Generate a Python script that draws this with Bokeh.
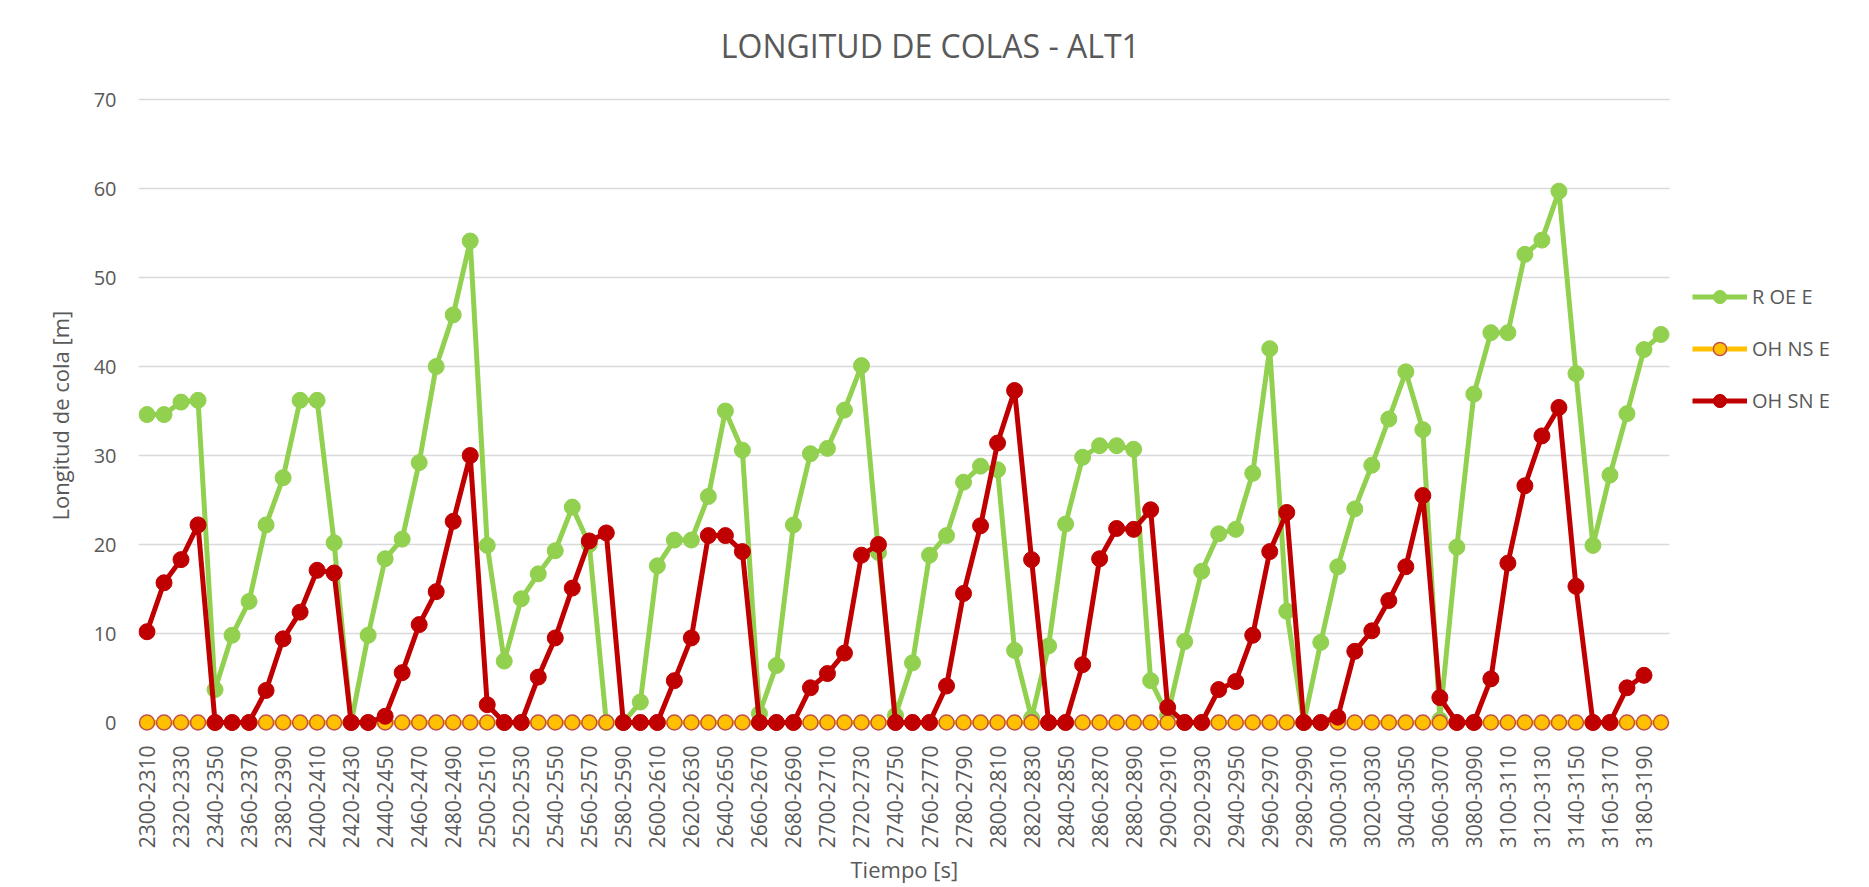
import numpy as np
from bokeh.plotting import figure
from bokeh.models import Range1d, FixedTicker, Legend, LegendItem, Title, Label
from bokeh.embed import file_html
from bokeh.resources import INLINE

# ---------------- data ----------------
start_times = list(range(2300, 3200, 10))
categories = [f"{t}-{t + 10}" for t in start_times]

r_oe_e = [
    34.6, 34.6, 36.0, 36.2, 3.7, 9.8, 13.6, 22.2, 27.5, 36.2,
    36.2, 20.2, 0.0, 9.8, 18.4, 20.6, 29.2, 40.0, 45.8, 54.1,
    19.9, 6.9, 13.9, 16.7, 19.3, 24.2, 20.0, 0.0, 0.0, 2.3,
    17.6, 20.5, 20.5, 25.4, 35.0, 30.6, 1.0, 6.4, 22.2, 30.2,
    30.8, 35.1, 40.1, 19.1, 0.8, 6.7, 18.8, 21.0, 27.0, 28.8,
    28.4, 8.1, 0.5, 8.6, 22.3, 29.8, 31.1, 31.1, 30.7, 4.7,
    0.8, 9.1, 17.0, 21.2, 21.7, 28.0, 42.0, 12.5, 0.0, 9.0,
    17.5, 24.0, 28.9, 34.1, 39.4, 32.9, 0.3, 19.7, 36.9, 43.8,
    43.8, 52.6, 54.2, 59.7, 39.2, 19.9, 27.8, 34.7, 41.9, 43.6,
]

oh_ns_e = [0.0] * 90

oh_sn_e = [
    10.2, 15.7, 18.3, 22.2, 0.0, 0.0, 0.0, 3.6, 9.4, 12.4,
    17.1, 16.8, 0.0, 0.0, 0.7, 5.6, 11.0, 14.7, 22.6, 30.0,
    2.0, 0.0, 0.0, 5.1, 9.5, 15.1, 20.4, 21.3, 0.0, 0.0,
    0.0, 4.7, 9.5, 21.0, 21.0, 19.2, 0.0, 0.0, 0.0, 3.9,
    5.5, 7.8, 18.8, 20.0, 0.0, 0.0, 0.0, 4.1, 14.5, 22.1,
    31.4, 37.3, 18.3, 0.0, 0.0, 6.5, 18.4, 21.8, 21.7, 23.9,
    1.7, 0.0, 0.0, 3.7, 4.6, 9.8, 19.2, 23.6, 0.0, 0.0,
    0.6, 8.0, 10.3, 13.7, 17.5, 25.5, 2.8, 0.0, 0.0, 4.9,
    17.9, 26.6, 32.2, 35.4, 15.3, 0.0, 0.0, 3.9, 5.3, None,
]

y_ticks = [0, 10, 20, 30, 40, 50, 60, 70]

# ---------------- style / layout ----------------
FONT = "Open Sans"
TXT = "#595959"
GREEN = "#92D050"
YELLOW = "#FFC000"
YEL_EDGE = "#C0504D"
RED = "#C00000"

W, H = 1853, 887
LEFT, PLOT_W = 138, 1531            # plotting area of the categories
PX_PER_CAT = PLOT_W / len(categories)
FRAME_W = W - LEFT                   # frame extended right to host the legend
FRAME_BOTTOM = 731                   # frame spans 0..731 px
Y0_PX, Y70_PX = 722, 99              # pixel rows of the 0 and 70 gridlines
PX_PER_UNIT = (Y0_PX - Y70_PX) / 70.0
Y_START = -(FRAME_BOTTOM - Y0_PX) / PX_PER_UNIT
Y_END = 70 + Y70_PX / PX_PER_UNIT

x = np.arange(len(categories))
red_y = np.array([np.nan if v is None else v for v in oh_sn_e], dtype=float)

p = figure(
    width=W, height=H,
    output_backend="svg", toolbar_location=None,
    x_range=Range1d(-0.5, -0.5 + FRAME_W / PX_PER_CAT),
    y_range=Range1d(Y_START, Y_END),
    min_border_left=LEFT, min_border_right=0,
    min_border_top=0, min_border_bottom=H - FRAME_BOTTOM,
)
p.outline_line_color = None
p.background_fill_color = "white"
p.border_fill_color = "white"

# chart title (inside the extended frame, above the 70 gridline)
p.add_layout(Label(
    x=934 - LEFT, y=FRAME_BOTTOM - 45, x_units="screen", y_units="screen",
    text="LONGITUD DE COLAS -  ALT1", text_align="center", text_baseline="middle",
    text_font=FONT, text_font_size="32px", text_color=TXT,
))

# axes
p.xaxis.bounds = (-0.5, len(categories) - 0.5)
p.xaxis.ticker = FixedTicker(ticks=list(range(0, len(categories), 2)))
p.xaxis.major_label_overrides = {i: categories[i] for i in range(0, len(categories), 2)}
p.xaxis.major_label_orientation = np.pi / 2
p.xaxis.major_tick_line_color = None
p.xaxis.minor_tick_line_color = None
p.xaxis.axis_line_color = None
p.xaxis.major_label_standoff = 8

p.yaxis.bounds = (0, 70)
p.yaxis.ticker = FixedTicker(ticks=y_ticks)
p.yaxis.major_tick_line_color = None
p.yaxis.minor_tick_line_color = None
p.yaxis.axis_line_color = None
p.yaxis.major_label_standoff = 16

for ax in (p.xaxis[0], p.yaxis[0]):
    ax.major_label_text_font = FONT
    ax.major_label_text_font_size = "21px"
    ax.major_label_text_color = TXT
p.yaxis.major_label_text_font_size = "20px"

# axis titles placed along the category / value area
x_title = Title(text="Tiempo [s]", align="left", offset=712, standoff=0,
                text_font=FONT, text_font_size="22px", text_color=TXT,
                text_font_style="normal")
p.add_layout(x_title, "below")

y_title = Title(text="Longitud de cola [m]", align="left", offset=211, standoff=32,
                text_font=FONT, text_font_size="22px", text_color=TXT,
                text_font_style="normal")
p.add_layout(y_title, "left")

p.xgrid.grid_line_color = None
p.ygrid.grid_line_color = None

# horizontal gridlines limited to the category area
p.segment(x0=[-0.5] * len(y_ticks), x1=[len(categories) - 0.5] * len(y_ticks),
          y0=y_ticks, y1=y_ticks, line_color="#D9D9D9", line_width=1.5)

# series
g_line = p.line(x, r_oe_e, line_color=GREEN, line_width=5, line_join="round")
g_pts = p.scatter(x, r_oe_e, size=16, fill_color=GREEN, line_color=GREEN)

y_line = p.line(x, oh_ns_e, line_color=YELLOW, line_width=5, line_join="round")
y_pts = p.scatter(x, oh_ns_e, size=15, fill_color=YELLOW, line_color=YEL_EDGE, line_width=1.5)

r_line = p.line(x, red_y, line_color=RED, line_width=5, line_join="round")
r_pts = p.scatter(x, red_y, size=16, fill_color=RED, line_color=RED)

legend = Legend(
    items=[
        LegendItem(label="R OE E", renderers=[g_line, g_pts]),
        LegendItem(label="OH NS E", renderers=[y_line, y_pts]),
        LegendItem(label="OH SN E", renderers=[r_line, r_pts]),
    ],
    location=(1692 - LEFT, 314),
    orientation="vertical",
    padding=0, margin=0, spacing=19,
    glyph_width=55, glyph_height=33, label_height=33,
    label_standoff=5,
    label_text_font=FONT, label_text_font_size="20px", label_text_color=TXT,
    background_fill_alpha=0, border_line_alpha=0,
)
p.add_layout(legend)

open("out.html", "w").write(file_html(p, INLINE))
